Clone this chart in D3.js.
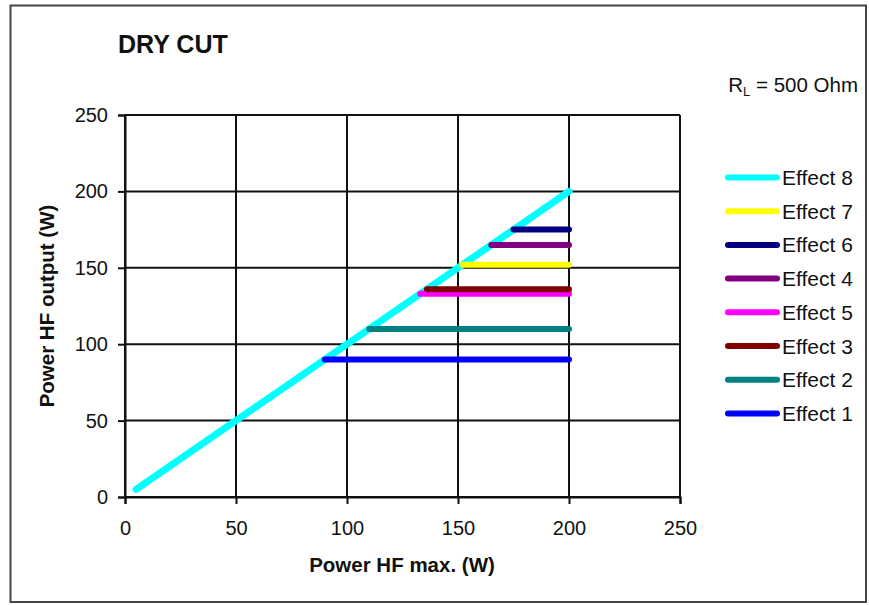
<!DOCTYPE html>
<html><head><meta charset="utf-8">
<script src="https://cdn.jsdelivr.net/npm/d3@7"></script>
<style>
html,body{margin:0;padding:0;background:#fff;}
text{font-family:"Liberation Sans",Arial,sans-serif;fill:#111;}
</style></head>
<body><svg id="c" width="869" height="605"></svg>
<script>
const seriesNames = ["Effect 8","Effect 7","Effect 6","Effect 4","Effect 5","Effect 3","Effect 2","Effect 1"];
const seriesColors = ["#00ffff","#ffff00","#000080","#800080","#ff00ff","#800000","#008080","#0000ff"];
const seriesX = [[5,200],[152,200],[175,200],[165,200],[133,200],[136,200],[110,200],[90,200]];
const seriesY = [[5,200],[152,152],[175,175],[165,165],[133,133],[136,136],[110,110],[90,90]];
const xTicks = [0,50,100,150,200,250];
const yTicks = [0,50,100,150,200,250];

const svg = d3.select("#c");
svg.append("rect").attr("x",10.5).attr("y",5.5).attr("width",855.5).attr("height",596.5)
  .attr("fill","#fff").attr("stroke","#444").attr("stroke-width",2);

const x = d3.scaleLinear().domain([0,250]).range([125,680]);
const y = d3.scaleLinear().domain([0,250]).range([497,115]);

// grid
const g = svg.append("g");
g.selectAll(".vg").data(xTicks).join("line")
  .attr("x1",d=>x(d)).attr("x2",d=>x(d)).attr("y1",y(250)).attr("y2",y(0))
  .attr("stroke","#111").attr("stroke-width",2);
g.selectAll(".hg").data(yTicks).join("line")
  .attr("y1",d=>y(d)).attr("y2",d=>y(d)).attr("x1",x(0)).attr("x2",x(250))
  .attr("stroke","#111").attr("stroke-width",2);

// axes
const xa = svg.append("g").attr("transform",`translate(0,${y(0)})`)
  .call(d3.axisBottom(x).tickValues(xTicks).tickSize(7).tickPadding(17));
const ya = svg.append("g").attr("transform",`translate(${x(0)},0)`)
  .call(d3.axisLeft(y).tickValues(yTicks).tickSize(7).tickPadding(10));
[xa,ya].forEach(a=>{
  a.select(".domain").attr("stroke","#111").attr("stroke-width",2);
  a.selectAll(".tick line").attr("stroke","#111").attr("stroke-width",2);
  a.selectAll(".tick text").attr("font-size",20).attr("font-family","Liberation Sans, Arial, sans-serif").attr("fill","#111");
});

// series
const line = d3.line().x(d=>x(d[0])).y(d=>y(d[1]));
seriesNames.forEach((n,i)=>{
  const pts = seriesX[i].map((v,j)=>[v,seriesY[i][j]]);
  svg.append("path").attr("d",line(pts)).attr("fill","none")
    .attr("stroke",seriesColors[i]).attr("stroke-width",i===0?7:6)
    .attr("stroke-linecap","round");
});

// legend
const lg = svg.append("g");
seriesNames.forEach((n,i)=>{
  const yy = 177.5 + i*33.7;
  lg.append("line").attr("x1",728).attr("x2",777).attr("y1",yy).attr("y2",yy)
    .attr("stroke",seriesColors[i]).attr("stroke-width",6).attr("stroke-linecap","round");
  lg.append("text").attr("x",782).attr("y",yy+7.5).attr("font-size",21).text(n);
});

// titles
svg.append("text").attr("x",118).attr("y",53).attr("font-size",25).attr("font-weight","bold").text("DRY CUT");
svg.append("text").attr("x",402).attr("y",572).attr("text-anchor","middle").attr("font-size",20.5).attr("font-weight","bold").text("Power HF max. (W)");
svg.append("text").attr("transform","translate(54,306) rotate(-90)").attr("text-anchor","middle").attr("font-size",20.5).attr("font-weight","bold").text("Power HF output (W)");
const rl = svg.append("text").attr("x",858).attr("y",92).attr("text-anchor","end").attr("font-size",20.5);
rl.append("tspan").text("R");
rl.append("tspan").attr("font-size",13).attr("dy",4).text("L");
rl.append("tspan").attr("dy",-4).text(" = 500 Ohm");
</script></body></html>
